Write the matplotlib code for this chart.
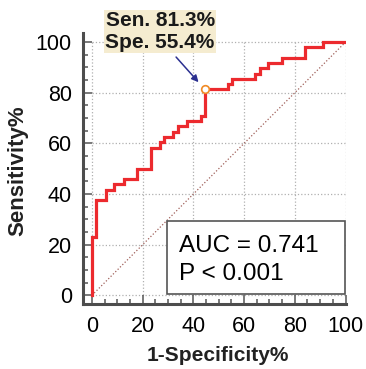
import matplotlib
matplotlib.use('Agg')
import matplotlib.pyplot as plt
from matplotlib.patches import Rectangle

plt.rcParams['font.family'] = ['Liberation Sans', 'DejaVu Sans']

# ROC curve corners (1-specificity %, sensitivity %), drawn as steps
fpr = [0, 0, 1.8, 5.4, 8.9, 12.5, 17.9, 23.2, 26.8, 28.6, 32.1, 33.9, 37.5,
       42.9, 44.6, 53.6, 55.4, 64.3, 66.1, 69.6, 75.0, 83.9, 91.1, 100]
tpr = [0, 22.9, 37.5, 41.7, 43.8, 45.8, 50.0, 58.3, 60.4, 62.5, 64.6, 66.7, 68.8,
       70.8, 81.3, 83.3, 85.4, 87.5, 89.6, 91.7, 93.8, 97.9, 100, 100]

cut_fpr = 44.6
cut_sens = 81.3
cut_spe = 55.4
auc = 0.741
ticks = [0, 20, 40, 60, 80, 100]

fig = plt.figure(figsize=(3.66, 3.69), dpi=100)
ax = fig.add_axes([0.2268, 0.1762, 0.7186, 0.7344])

ax.set_xlim(-3.5, 100.2)
ax.set_ylim(-3.4, 103.6)

# grid only over the data range
ax.hlines(ticks, 0, 100, colors='#b0b0b0', linestyles=':', linewidth=0.9, zorder=1)
ax.vlines(ticks, 0, 100, colors='#b0b0b0', linestyles=':', linewidth=0.9, zorder=1)

ax.plot([0, 100], [0, 100], color='#a0605a', linestyle=':', linewidth=0.9, zorder=2)
ax.plot(fpr, tpr, drawstyle='steps-post', color='#ec2a2e', linewidth=2.3,
        solid_joinstyle='miter', zorder=3)
ax.plot([cut_fpr], [cut_sens], 'o', markersize=5.5, markerfacecolor='white',
        markeredgecolor='#f08a24', markeredgewidth=1.2, zorder=4)

ax.text(26.9, 104.2, 'Sen. %.1f%%\nSpe. %.1f%%' % (cut_sens, cut_spe),
        ha='center', va='center', fontsize=15, fontweight='bold', color='#1a1a1a',
        linespacing=1.15, clip_on=False,
        bbox=dict(boxstyle='square,pad=0.08', facecolor='#f5ecd0', edgecolor='none'))
ax.annotate('', xy=(cut_fpr, cut_sens), xytext=(33.2, 94.1),
            arrowprops=dict(arrowstyle='-|>', color='#2b3090', lw=1.1,
                            mutation_scale=10, shrinkA=0, shrinkB=7),
            annotation_clip=False)

ax.add_patch(Rectangle((29.7, 0.4), 70.1, 29.0, facecolor='white',
                       edgecolor='#555555', linewidth=1.2, zorder=5))
ax.text(34.5, 17.3, 'AUC = %.3f' % auc, fontsize=17.5, va='baseline', zorder=6)
ax.text(34.5, 6.1, 'P < 0.001', fontsize=17.5, va='baseline', zorder=6)

for side in ['top', 'right']:
    ax.spines[side].set_visible(False)
for side in ['left', 'bottom']:
    ax.spines[side].set_linewidth(2.2)
    ax.spines[side].set_color('#4d4d4d')

ax.set_xticks(ticks)
ax.set_yticks(ticks)
ax.set_xticks(range(0, 101, 5), minor=True)
ax.set_yticks(range(0, 101, 5), minor=True)
ax.tick_params(which='major', direction='in', length=6.5, width=1.1,
               color='#555555', labelsize=15.5)
ax.tick_params(axis='x', which='major', pad=9)
ax.tick_params(axis='y', which='major', pad=8)
ax.tick_params(which='minor', direction='in', length=3.6, width=1.1, color='#555555')

fig.text(0.5956, 0.0379, '1-Specificity%', ha='center', va='center',
         fontsize=15, fontweight='bold', color='#222222')
fig.text(0.0492, 0.5366, 'Sensitivity%', ha='center', va='center', rotation=90,
         fontsize=16, fontweight='bold', color='#222222')

fig.savefig('out.png', dpi=100)
plt.close(fig)
